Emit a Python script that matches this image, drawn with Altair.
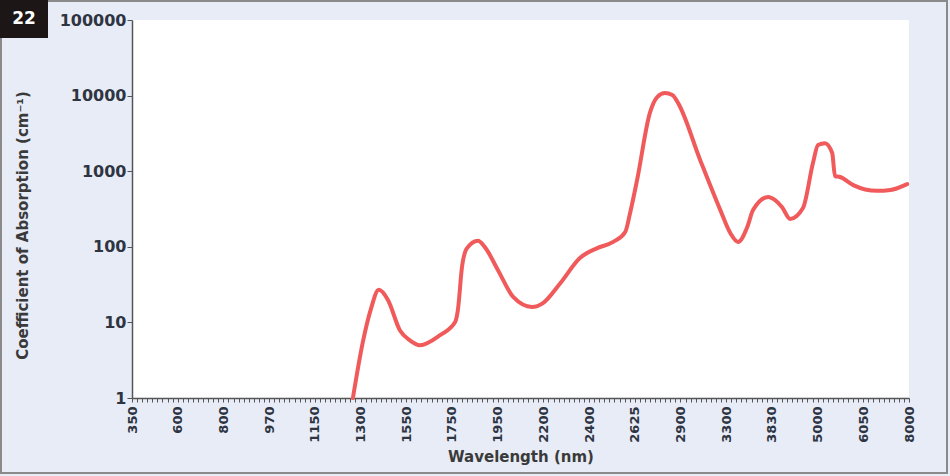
import altair as alt
import pandas as pd

# Major tick wavelengths (evenly spaced on the axis)
tick_wavelengths = [350, 600, 800, 970, 1150, 1300, 1550, 1750, 1950, 2200,
                    2400, 2625, 2900, 3300, 3830, 5000, 6050, 8000]

# Curve
wavelength = [1275, 1312, 1355, 1400, 1450, 1515, 1566, 1610, 1698,
              1764, 1776, 1794, 1816, 1864, 1894, 1952, 2035, 2138, 2198,
              2274, 2360, 2440, 2519, 2578, 2602, 2639, 2716, 2760, 2807,
              2851, 2886, 3072, 3248, 3348, 3438, 3544, 3613, 3788, 3912,
              4087, 4298, 4626, 4883, 5010, 5168, 5336, 5399, 5514, 5819,
              6635, 7201, 7922]
absorption = [1.0, 5.4, 14.5, 27, 19.8, 7.9, 5.8, 5.0, 6.8,
              10.1, 14.6, 54, 96, 120, 99, 49, 21.7, 16, 18,
              33, 71, 96, 116, 157, 280, 765, 5900, 9550, 10800,
              10200, 7950, 1410, 308, 152, 116, 182, 308, 457, 415,
              337, 234, 326, 1290, 2220, 2350, 1740, 863, 838, 655,
              550, 565, 676]

y_ticks = [1, 10, 100, 1000, 10000, 100000]

W, H = 777, 378
n = len(tick_wavelengths) - 1
x_range = [i * W / n for i in range(n + 1)]

# minor ticks: 9 subdivisions per major interval
minor_vals = []
for i in range(n):
    a, b = tick_wavelengths[i], tick_wavelengths[i + 1]
    for k in range(9):
        minor_vals.append(a + k * (b - a) / 9)
minor_vals.append(tick_wavelengths[-1])

df = pd.DataFrame({"wavelength": wavelength, "absorption": absorption})

major_str = "[" + ",".join(str(v) for v in tick_wavelengths) + "]"

x_scale = alt.Scale(domain=tick_wavelengths, range=x_range)
y_scale = alt.Scale(type="log", domain=[1, 100000])

font = "DejaVu Sans"
txt_color = "#2e3442"

line = alt.Chart(df).mark_line(
    color="#f05a5a", strokeWidth=4, interpolate="monotone", strokeCap="round"
).encode(
    x=alt.X("wavelength:Q", scale=x_scale,
            axis=alt.Axis(values=minor_vals,
                          labelExpr=f"indexof({major_str}, datum.value) >= 0 ? datum.value + '' : ''",
                          labelAngle=270, labelAlign="right", labelBaseline="middle",
                          labelOverlap=False, labelFlush=False, labelPadding=4,
                          tickSize=4, tickColor="#555555", domainColor="#555555",
                          domainWidth=1.5, grid=False,
                          labelFont=font, labelFontWeight="bold", labelFontSize=13,
                          labelColor=txt_color,
                          title="Wavelength (nm)", titleFont=font, titleFontSize=15,
                          titleFontWeight="bold", titleColor="#3a3a3a",
                          titlePadding=7)),
    y=alt.Y("absorption:Q", scale=y_scale,
            axis=alt.Axis(values=y_ticks, format="d", grid=False,
                          tickSize=5, tickColor="#555555", domainColor="#555555",
                          domainWidth=1.5,
                          labelFont=font, labelFontWeight="bold", labelFontSize=16,
                          labelColor=txt_color, labelPadding=1,
                          title="Coefficient of Absorption (cm⁻¹)", titleFont=font,
                          titleFontSize=15, titleFontWeight="bold", titleColor="#3a3a3a",
                          titleAngle=270, titleX=-110, titleY=205,
                          titleAlign="center", titleBaseline="middle")),
)

one = pd.DataFrame({"a": [0]})

border = alt.Chart(one).mark_rect(
    fill=None, stroke="#8a8a8a", strokeWidth=2
).encode(x=alt.value(-131), x2=alt.value(815), y=alt.value(-19), y2=alt.value(453))

badge = alt.Chart(one).mark_rect(fill="#1c1616").encode(
    x=alt.value(-132), x2=alt.value(-84), y=alt.value(-20), y2=alt.value(18))

badge_txt = alt.Chart(one).mark_text(
    text="22", color="white", font=font, fontWeight="bold", fontSize=17,
    align="center", baseline="middle"
).encode(x=alt.value(-108), y=alt.value(-1))

chart = alt.layer(border, badge, badge_txt, line).properties(
    width=W, height=H,
    autosize=alt.AutoSizeParams(type="none"),
    padding={"left": 132, "top": 20, "right": 41, "bottom": 78},
    background="#e7ecf6",
).configure_view(fill="white", stroke=None)

chart.save("out.html", embed_options={"renderer": "svg", "actions": False})
